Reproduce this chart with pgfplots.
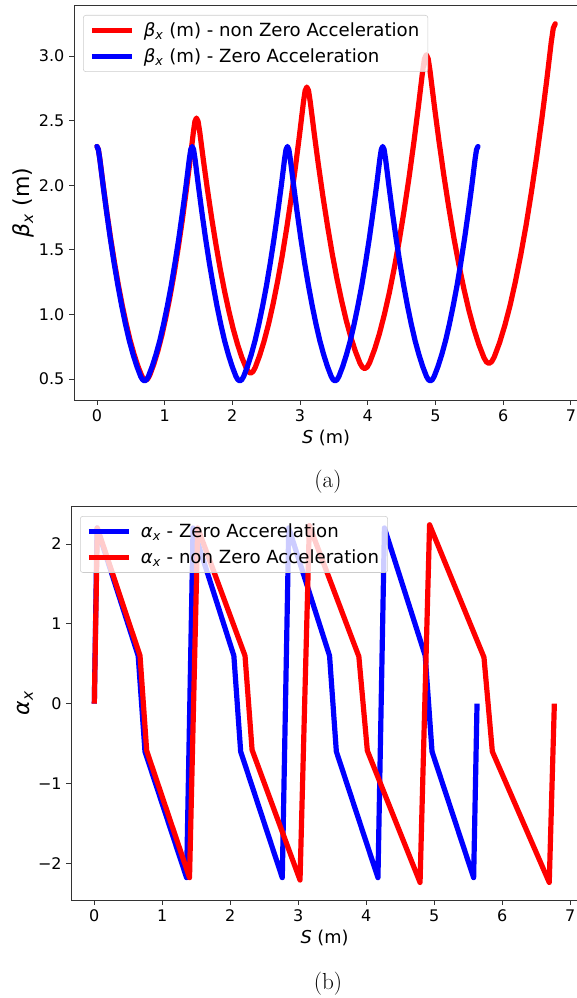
\documentclass[border=0pt]{standalone}
\usepackage{fontspec}
\newfontfamily\dv{DejaVu Sans}
\usepackage{pgfplots}
\pgfplotsset{compat=1.18}
\pgfplotsset{
  myax/.style={
    scale only axis,
    xmin=-0.3385, xmax=7.1085,
    xtick={0,1,2,3,4,5,6,7}, xticklabels={0,1,2,3,4,5,6,7},
    tick pos=left, tick align=outside,
    major tick length=3.7pt,
    every tick/.style={black!80, line width=0.6pt},
    axis line style={black!80, line width=0.6pt},
    tick label style={font=\dv\fontsize{12}{14}\selectfont},
    /pgf/number format/assume math mode=true,
    xlabel style={at={(axis description cs:0.5,-0.097)}, anchor=center, font=\dv\fontsize{13.3}{15}\selectfont},
    legend cell align=left,
    legend image code/.code={\draw[##1, line width=3.9pt, line cap=butt] (0pt,0pt) -- (30pt,0pt);},
    legend style={draw=black!20, rounded corners=2pt, fill=white, fill opacity=0.8, text opacity=1,
      font=\dv\fontsize{13.6}{16}\selectfont, inner xsep=4.5pt, inner ysep=3.5pt, row sep=3.5pt,
      anchor=north west, /tikz/every odd column/.append style={column sep=5pt}},
  },
  myline/.style={line width=3.9pt, line join=round, line cap=round},
}
\begin{document}
\begin{tikzpicture}
% ---------------- (a) ----------------
\begin{axis}[myax,
  at={(55.5pt,-300pt)}, anchor=south west,
  width=378.15pt, height=296.25pt,
  ymin=0.337, ymax=3.395,
  ytick={0.5,1,1.5,2,2.5,3}, yticklabels={0.5,1.0,1.5,2.0,2.5,3.0},
  xlabel={{\itshape S} (m)},
  ylabel={{\itshape β}\textsubscript{\itshape x} (m)},
  every axis y label/.style={at={(axis description cs:-0.1,0.5)}, rotate=90, anchor=center, font=\dv\fontsize{16.5}{19}\selectfont},
  legend style={at={(axis description cs:0.0179,0.9747)}},
]
\addplot[red, myline] coordinates {
(0,2.300) (0.0216,2.276) (0.0432,2.204) (0.0936,1.996) (0.144,1.800) (0.2016,1.592) (0.2592,1.402) (0.3168,1.227) (0.3744,1.069) (0.432,0.928) (0.4896,0.801) (0.5472,0.693) (0.6048,0.600) (0.6624,0.524) (0.6912,0.499) (0.72,0.490)
(0.75,0.500) (0.78,0.529) (0.84,0.614) (0.90,0.717) (0.96,0.839) (1.02,0.981) (1.08,1.140) (1.14,1.316) (1.20,1.513) (1.26,1.726) (1.32,1.960) (1.3725,2.179) (1.425,2.412) (1.4475,2.494) (1.47,2.520)
(1.494,2.494) (1.518,2.415) (1.574,2.188) (1.630,1.975) (1.694,1.748) (1.758,1.540) (1.822,1.349) (1.886,1.177) (1.950,1.023) (2.014,0.885) (2.078,0.766) (2.142,0.665) (2.206,0.583) (2.238,0.555) (2.270,0.545)
(2.3032,0.556) (2.3364,0.587) (2.4028,0.680) (2.4692,0.793) (2.5356,0.926) (2.602,1.081) (2.6684,1.254) (2.7348,1.447) (2.8012,1.661) (2.8676,1.894) (2.934,2.149) (2.9921,2.388) (3.0502,2.643) (3.0751,2.731) (3.10,2.760)
(3.1257,2.732) (3.1513,2.644) (3.2112,2.394) (3.271,2.158) (3.3394,1.908) (3.4078,1.679) (3.4762,1.467) (3.5446,1.278) (3.613,1.108) (3.6814,0.955) (3.7498,0.824) (3.8182,0.713) (3.8866,0.621) (3.9208,0.591) (3.955,0.580)
(3.9914,0.592) (4.0278,0.626) (4.1006,0.728) (4.1734,0.852) (4.2462,1.000) (4.319,1.168) (4.3918,1.358) (4.4646,1.569) (4.5374,1.805) (4.6102,2.060) (4.683,2.339) (4.7467,2.602) (4.8104,2.881) (4.8377,2.978) (4.865,3.010)
(4.8928,2.979) (4.9205,2.883) (4.9853,2.608) (5.05,2.350) (5.124,2.076) (5.198,1.825) (5.272,1.593) (5.346,1.385) (5.42,1.198) (5.494,1.031) (5.568,0.888) (5.642,0.766) (5.716,0.665) (5.753,0.632) (5.79,0.620)
(5.8292,0.633) (5.8684,0.670) (5.9468,0.780) (6.0252,0.915) (6.1036,1.072) (6.182,1.256) (6.2604,1.462) (6.3388,1.690) (6.4172,1.946) (6.4956,2.222) (6.574,2.524) (6.6426,2.808) (6.7112,3.111) (6.7406,3.216) (6.77,3.250)
};
\addlegendentry{{\itshape β}\textsubscript{\itshape x} (m) - non Zero Acceleration}
\addplot[blue, myline] coordinates {
(0.000,2.300) (0.021,2.276) (0.042,2.204) (0.092,1.995) (0.141,1.799) (0.197,1.590) (0.253,1.400) (0.310,1.224) (0.366,1.066) (0.422,0.924) (0.478,0.797) (0.535,0.688) (0.591,0.596) (0.647,0.519) (0.675,0.494) (0.704,0.485)
(0.732,0.494) (0.760,0.519) (0.816,0.596) (0.872,0.688) (0.929,0.797) (0.985,0.924) (1.041,1.066) (1.098,1.224) (1.154,1.400) (1.210,1.590) (1.266,1.799) (1.316,1.995) (1.365,2.204) (1.386,2.276)
(1.407,2.300) (1.428,2.276) (1.449,2.204) (1.499,1.995) (1.548,1.799) (1.604,1.590) (1.660,1.400) (1.717,1.224) (1.773,1.066) (1.829,0.924) (1.885,0.797) (1.942,0.688) (1.998,0.596) (2.054,0.519) (2.082,0.494) (2.111,0.485)
(2.139,0.494) (2.167,0.519) (2.223,0.596) (2.279,0.688) (2.336,0.797) (2.392,0.924) (2.448,1.066) (2.505,1.224) (2.561,1.400) (2.617,1.590) (2.673,1.799) (2.723,1.995) (2.772,2.204) (2.793,2.276)
(2.814,2.300) (2.835,2.276) (2.856,2.204) (2.906,1.995) (2.955,1.799) (3.011,1.590) (3.067,1.400) (3.124,1.224) (3.180,1.066) (3.236,0.924) (3.292,0.797) (3.349,0.688) (3.405,0.596) (3.461,0.519) (3.489,0.494) (3.518,0.485)
(3.546,0.494) (3.574,0.519) (3.630,0.596) (3.686,0.688) (3.743,0.797) (3.799,0.924) (3.855,1.066) (3.912,1.224) (3.968,1.400) (4.024,1.590) (4.080,1.799) (4.130,1.995) (4.179,2.204) (4.200,2.276)
(4.221,2.300) (4.242,2.276) (4.263,2.204) (4.313,1.995) (4.362,1.799) (4.418,1.590) (4.474,1.400) (4.531,1.224) (4.587,1.066) (4.643,0.924) (4.699,0.797) (4.756,0.688) (4.812,0.596) (4.868,0.519) (4.896,0.494) (4.925,0.485)
(4.953,0.494) (4.981,0.519) (5.037,0.596) (5.093,0.688) (5.150,0.797) (5.206,0.924) (5.262,1.066) (5.319,1.224) (5.375,1.400) (5.431,1.590) (5.487,1.799) (5.537,1.995) (5.586,2.204) (5.607,2.276) (5.628,2.300)
};
\addlegendentry{{\itshape β}\textsubscript{\itshape x} (m) - Zero Acceleration}
\end{axis}
% ---------------- (b) ----------------
\begin{axis}[myax,
  at={(53.475pt,-675pt)}, anchor=south west,
  width=379.8pt, height=295.5pt,
  ymin=-2.46, ymax=2.475,
  ytick={-2,-1,0,1,2}, yticklabels={−2,−1,0,1,2},
  xlabel={{\itshape S} (m)},
  ylabel={{\itshape α}\textsubscript{\itshape x}},
  every axis y label/.style={at={(axis description cs:-0.0914,0.5)}, rotate=90, anchor=center, font=\dv\fontsize{16.5}{19}\selectfont},
  legend style={at={(axis description cs:0.0172,0.9746)}},
]
\addplot[blue, line width=3.9pt, line join=round, line cap=butt] coordinates {
(0,0) (0.04,2.2) (0.645,0.6) (0.745,-0.6) (1.357,-2.18) (1.452,2.2) (2.052,0.6) (2.152,-0.6) (2.764,-2.18) (2.859,2.2) (3.459,0.6) (3.559,-0.6) (4.171,-2.18) (4.266,2.2) (4.866,0.6) (4.966,-0.6) (5.578,-2.18) (5.628,0)
};
\addlegendentry{{\itshape α}\textsubscript{\itshape x} - Zero Accerelation}
\addplot[red, line width=3.9pt, line join=round, line cap=butt] coordinates {
(0,0) (0.044,2.2) (0.672,0.6) (0.77,-0.59) (1.40,-2.18) (1.52,2.2) (2.216,0.6) (2.32,-0.58) (3.025,-2.21) (3.162,2.23) (3.89,0.59) (4.015,-0.59) (4.79,-2.24) (4.93,2.24) (5.73,0.58) (5.853,-0.6) (6.69,-2.24) (6.765,0)
};
\addlegendentry{{\itshape α}\textsubscript{\itshape x} - non Zero Acceleration}
\end{axis}
\node[font=\rmfamily\fontsize{17.4}{20}\selectfont] at (246pt,-361.5pt) {(a)};
\node[font=\rmfamily\fontsize{17.4}{20}\selectfont] at (246pt,-738pt) {(b)};
\pgfresetboundingbox
\useasboundingbox (0pt,0pt) rectangle (432pt,-748.5pt);
\end{tikzpicture}
\end{document}
